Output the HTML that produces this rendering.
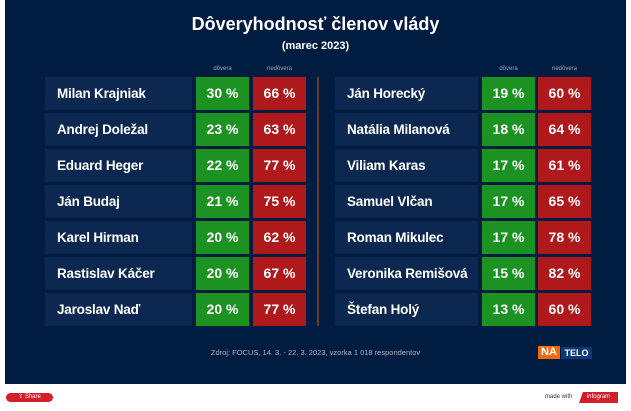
<!DOCTYPE html>
<html><head><meta charset="utf-8"><style>
*{margin:0;padding:0;box-sizing:border-box}
body{width:631px;height:411px;background:#fff;font-family:"Liberation Sans",sans-serif;position:relative;overflow:hidden}
#bg{position:absolute;left:5px;top:0;width:621px;height:384px;background:#001c41}
.t{position:absolute;color:#fff;font-weight:bold;text-align:center;left:5px;width:621px}
.n{position:absolute;background:#0c2750;color:#fff;font-weight:bold;font-size:13.5px;line-height:33px;padding-left:12px;height:33px;letter-spacing:-0.2px}
.g,.r{position:absolute;color:#fff;font-weight:bold;font-size:14px;line-height:33px;text-align:center;width:53px;height:33px}
.g{background:#1c9222}.r{background:#b0191b}
.h{position:absolute;color:#9aa5b5;font-size:6px;top:66px;width:53px;text-align:center}
</style></head><body>
<div id="bg"></div>
<div class="t" style="top:14px;font-size:18px">Dôveryhodnosť členov vlády</div>
<div class="t" style="top:40px;font-size:11px">(marec 2023)</div>
<div class="h" style="left:196px">dôvera</div><div class="h" style="left:253px">nedôvera</div>
<div class="h" style="left:482px">dôvera</div><div class="h" style="left:538px">nedôvera</div>
<div style="position:absolute;left:317px;top:77px;width:2px;height:249px;background:#6b3a2e"></div>
<div id="rows"></div>
<div style="position:absolute;left:5px;width:621px;top:348px;text-align:center;color:#a9b3c2;font-size:7.5px">Zdroj: FOCUS, 14. 3. - 22. 3. 2023, vzorka 1 018 respondentov</div>
<div style="position:absolute;left:538px;top:346px;height:13px;width:22px;background:#f26a10;color:#fff;font-weight:bold;font-size:11px;line-height:13px;text-align:center">NA</div>
<div style="position:absolute;left:561px;top:347px;height:12px;width:31px;background:#0c3a78;color:#fff;font-weight:bold;font-size:9px;line-height:12px;text-align:center">TELO</div>
<div style="position:absolute;left:6px;top:393px;width:47px;height:9px;background:#d41f2b;border-radius:5px;color:#fff;font-size:6px;line-height:9px;text-align:center">⇪ Share</div>
<div style="position:absolute;left:545px;top:394px;font-size:6px;color:#333">made with</div>
<div style="position:absolute;left:579px;top:392px;width:39px;height:11px;background:#d41f2b;color:#fff;font-size:6px;line-height:11px;text-align:center;clip-path:polygon(10% 0,100% 0,100% 100%,0 100%)">infogram</div>
<script>
var L=[["Milan Krajniak",30,66],["Andrej Doležal",23,63],["Eduard Heger",22,77],["Ján Budaj",21,75],["Karel Hirman",20,62],["Rastislav Káčer",20,67],["Jaroslav Naď",20,77]];
var R=[["Ján Horecký",19,60],["Natália Milanová",18,64],["Viliam Karas",17,61],["Samuel Vlčan",17,65],["Roman Mikulec",17,78],["Veronika Remišová",15,82],["Štefan Holý",13,60]];
var h="";
function add(a,x,w,gx,rx){a.forEach(function(d,i){var y=77+i*36;
h+='<div class="n" style="left:'+x+'px;top:'+y+'px;width:'+w+'px">'+d[0]+'</div><div class="g" style="left:'+gx+'px;top:'+y+'px">'+d[1]+' %</div><div class="r" style="left:'+rx+'px;top:'+y+'px">'+d[2]+' %</div>';});}
add(L,45,147,196,253);add(R,335,143,482,538);
document.getElementById("rows").innerHTML=h;
</script>
</body></html>
